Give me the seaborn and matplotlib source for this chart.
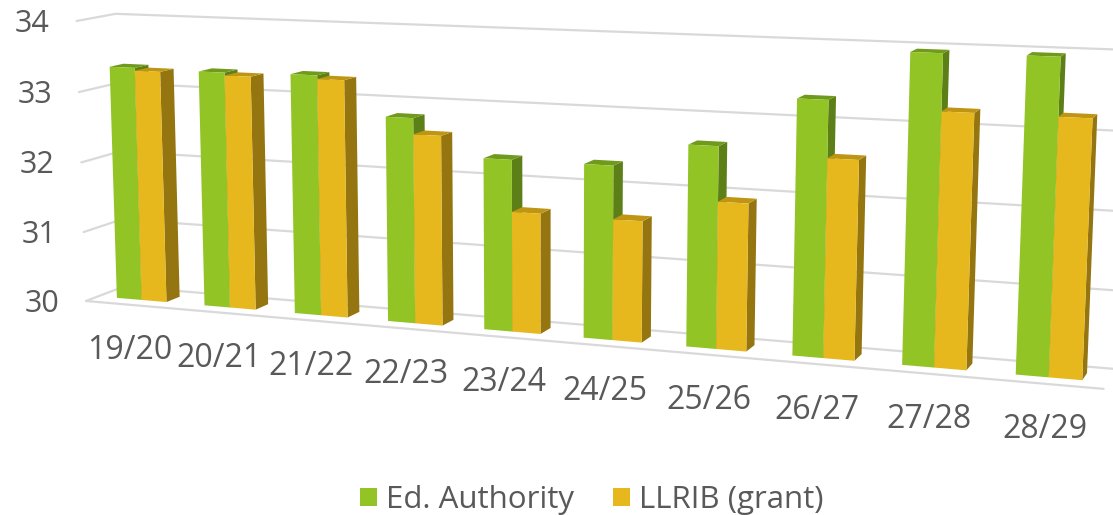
import numpy as np
import pandas as pd
import matplotlib
matplotlib.use("Agg")
import matplotlib.pyplot as plt
from matplotlib.patches import Polygon
from matplotlib.transforms import Transform
import seaborn as sns

# ---- data
years = ["19/20", "20/21", "21/22", "22/23", "23/24", "24/25", "25/26", "26/27", "27/28", "28/29"]
ed_authority = [33.33, 33.32, 33.34, 32.82, 32.33, 32.33, 32.66, 33.32, 33.96, 33.97]
llrib_grant = [33.29, 33.28, 33.29, 32.6, 31.63, 31.62, 31.94, 32.58, 33.24, 33.24]
series_names = ["Ed. Authority", "LLRIB (grant)"]
value_ticks = [30, 31, 32, 33, 34]

# ---- styles
FRONT = ["#92C425", "#E6B81E"]
TOP = ["#6F9A1B", "#BF9614"]
SIDE = ["#5C7F18", "#95750F"]
GRID = "#D9D9D9"
TEXT = "#595959"
FONT = "Open Sans"
W, H = 1113, 515

# ---- camera of the 3-D look: vanishing points (pixels) and their strengths
ORIGIN = np.array([86.0, 301.0])
VP_X, KX = np.array([-5600.0, -190.0]), -0.01518
VP_V, KV = np.array([545.0, 14000.0]), -0.005008
VP_D, KD = np.array([1500.0, -240.0]), 0.0276
BASE = value_ticks[0]
S_OFF = 0.5
N_S = len(years)
D_FRONT, D_BACK = 0.32, 0.68


def project(s, v, d):
    s, v, d = np.asarray(s, float), np.asarray(v, float) - BASE, np.asarray(d, float)
    w = 1 + KX * s + KV * v + KD * d
    x = (ORIGIN[0] + KX * s * VP_X[0] + KV * v * VP_V[0] + KD * d * VP_D[0]) / w
    y = (ORIGIN[1] + KX * s * VP_X[1] + KV * v * VP_V[1] + KD * d * VP_D[1]) / w
    return np.column_stack([np.atleast_1d(x), np.atleast_1d(y)])


class Projection(Transform):
    """Category position / value at a given depth -> picture position."""
    input_dims = output_dims = 2
    is_separable = False
    has_inverse = False

    def __init__(self, plane):
        super().__init__()
        self.plane = plane

    def transform_non_affine(self, values):
        values = np.asarray(values, float)
        return project(values[:, 0] + S_OFF, values[:, 1], np.full(len(values), self.plane))


sns.set_theme(style="white")
plt.rcParams["font.family"] = [FONT, "DejaVu Sans"]

df = pd.DataFrame({
    "year": years * 2,
    "value": ed_authority + llrib_grant,
    "series": [series_names[0]] * len(years) + [series_names[1]] * len(years),
})

fig = plt.figure(figsize=(W / 100, H / 100), dpi=100, facecolor="white")
ax = fig.add_axes([0, 0, 1, 1])
sns.barplot(data=df, x="year", y="value", hue="series", palette=FRONT,
            width=0.57, gap=0, saturation=1, errorbar=None, linewidth=0, ax=ax, legend=True)

bars = [p for p in ax.patches][:2 * len(years)]
front_tf = Projection(D_FRONT) + ax.transData
for k, bar in enumerate(bars):
    series = k // len(years)
    group = k % len(years)
    top = bar.get_height()
    x0, x1 = bar.get_x(), bar.get_x() + bar.get_width()
    bar.set_y(BASE)
    bar.set_height(top - BASE)
    bar.set_transform(front_tf)
    bar.set_zorder(10 + group * 3 + series * 1.5 + 1)
    s0, s1 = x0 + S_OFF, x1 + S_OFF
    top_face = np.vstack([project(s, top, d) for s, d in
                          [(s0, D_FRONT), (s1, D_FRONT), (s1, D_BACK), (s0, D_BACK)]])
    side_face = np.vstack([project(s1, v, d) for v, d in
                           [(top, D_FRONT), (BASE, D_FRONT), (BASE, D_BACK), (top, D_BACK)]])
    ax.add_patch(Polygon(side_face, closed=True, fc=SIDE[series], ec="none", zorder=bar.get_zorder() - 1))
    ax.add_patch(Polygon(top_face, closed=True, fc=TOP[series], ec="none", zorder=bar.get_zorder() - 1))

# walls and floor
for v in value_ticks:
    pts = np.vstack([project(0, v, 0), project(0, v, 1), project(N_S, v, 1)])
    ax.plot(pts[:, 0], pts[:, 1], color=GRID, lw=1.6, zorder=2)
    xy = project(0, v, 0)[0]
    ax.text(xy[0] - 27, xy[1] + 3, str(v), ha="right", va="center", fontsize=22, color=TEXT)
floor = np.vstack([project(0, BASE, 0), project(N_S, BASE, 0)])
ax.plot(floor[:, 0], floor[:, 1], color=GRID, lw=1.6, zorder=2)

# category labels
for i, label in enumerate(years):
    xy = project(i + S_OFF, BASE, 0)[0]
    ax.text(xy[0] + 0.5, xy[1] + 46, label, ha="center", va="center", fontsize=23, color=TEXT)

ax.set_xlim(0, W)
ax.set_ylim(H, 0)
sns.move_legend(ax, "center", bbox_to_anchor=(592 / W, 1 - 500 / H), ncols=2, frameon=False, title=None,
                fontsize=22.5, handlelength=0.55, handleheight=0.55, handletextpad=0.28, columnspacing=1.25,
                labelcolor=TEXT)
ax.set_axis_off()
fig.savefig("out.png", dpi=100, facecolor="white")
